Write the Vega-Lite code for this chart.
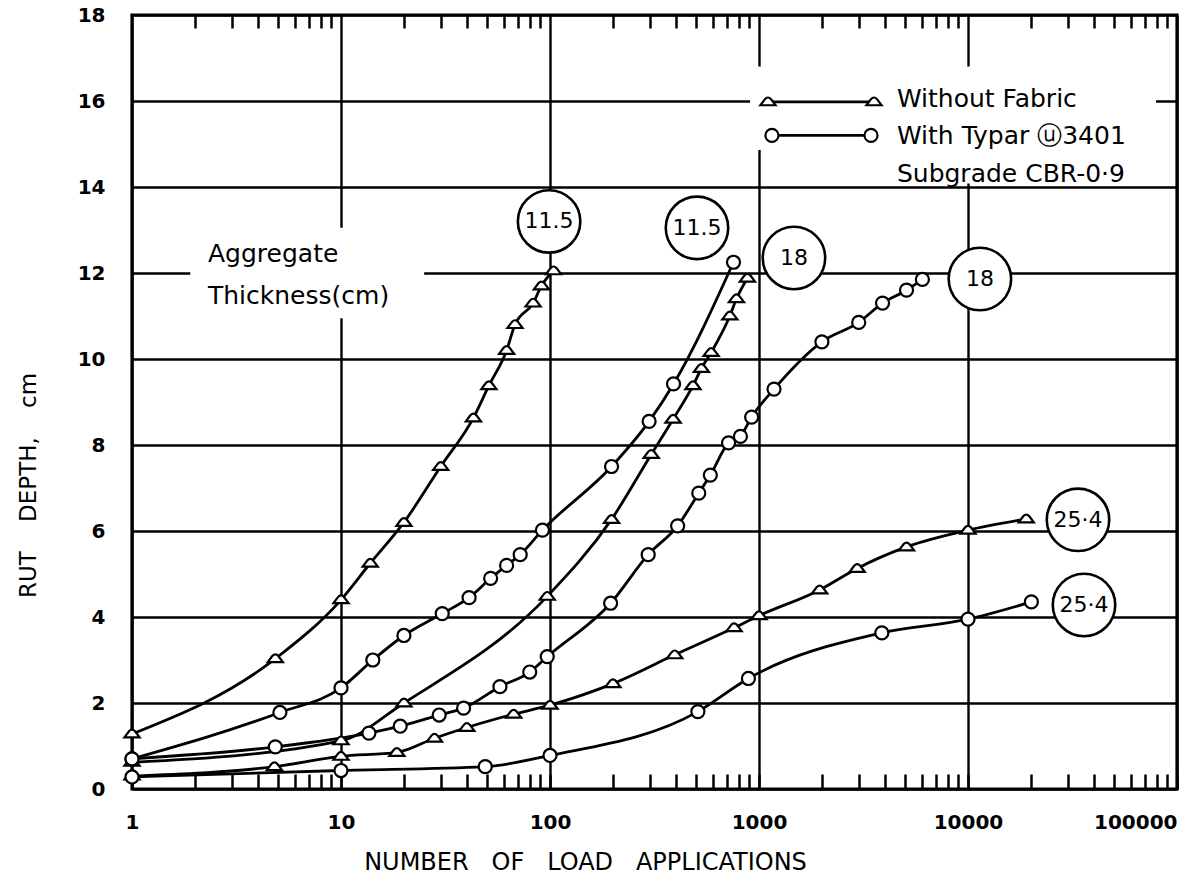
{
  "$schema": "https://vega.github.io/schema/vega-lite/v6.json",
  "width": 1045,
  "height": 774,
  "autosize": {"type": "none"},
  "padding": {"left": 132, "top": 15, "right": 20, "bottom": 98},
  "background": "white",
  "config": {
    "view": {"stroke": "black", "strokeWidth": 3.2},
    "font": "DejaVu Sans",
    "axis": {"labelFont": "DejaVu Sans", "titleFont": "DejaVu Sans", "labelColor": "black", "titleColor": "black", "titleFontWeight": "normal", "labelFontWeight": "bold"}
  },
  "datasets": {
    "curves": [
      {"curve": "11.5 without", "fabric": "without", "n": 1, "rut": 1.28},
      {"curve": "11.5 without", "fabric": "without", "n": 4.85, "rut": 3.03},
      {"curve": "11.5 without", "fabric": "without", "n": 10, "rut": 4.4},
      {"curve": "11.5 without", "fabric": "without", "n": 13.8, "rut": 5.25},
      {"curve": "11.5 without", "fabric": "without", "n": 20, "rut": 6.2},
      {"curve": "11.5 without", "fabric": "without", "n": 30, "rut": 7.5},
      {"curve": "11.5 without", "fabric": "without", "n": 43, "rut": 8.63},
      {"curve": "11.5 without", "fabric": "without", "n": 51, "rut": 9.38},
      {"curve": "11.5 without", "fabric": "without", "n": 62, "rut": 10.2},
      {"curve": "11.5 without", "fabric": "without", "n": 68, "rut": 10.8},
      {"curve": "11.5 without", "fabric": "without", "n": 83, "rut": 11.3},
      {"curve": "11.5 without", "fabric": "without", "n": 91, "rut": 11.7},
      {"curve": "11.5 without", "fabric": "without", "n": 104, "rut": 12.05},
      {"curve": "11.5 with", "fabric": "with", "n": 1, "rut": 0.7},
      {"curve": "11.5 with", "fabric": "with", "n": 5.1, "rut": 1.78},
      {"curve": "11.5 with", "fabric": "with", "n": 10, "rut": 2.35},
      {"curve": "11.5 with", "fabric": "with", "n": 14.2, "rut": 3.0},
      {"curve": "11.5 with", "fabric": "with", "n": 20, "rut": 3.57},
      {"curve": "11.5 with", "fabric": "with", "n": 30.5, "rut": 4.08},
      {"curve": "11.5 with", "fabric": "with", "n": 41, "rut": 4.45},
      {"curve": "11.5 with", "fabric": "with", "n": 52, "rut": 4.9},
      {"curve": "11.5 with", "fabric": "with", "n": 62, "rut": 5.2},
      {"curve": "11.5 with", "fabric": "with", "n": 72, "rut": 5.45},
      {"curve": "11.5 with", "fabric": "with", "n": 92, "rut": 6.02},
      {"curve": "11.5 with", "fabric": "with", "n": 197, "rut": 7.5},
      {"curve": "11.5 with", "fabric": "with", "n": 298, "rut": 8.55},
      {"curve": "11.5 with", "fabric": "with", "n": 390, "rut": 9.42},
      {"curve": "11.5 with", "fabric": "with", "n": 755, "rut": 12.25},
      {"curve": "18 without", "fabric": "without", "n": 1, "rut": 0.62},
      {"curve": "18 without", "fabric": "without", "n": 10, "rut": 1.12},
      {"curve": "18 without", "fabric": "without", "n": 20, "rut": 2.0},
      {"curve": "18 without", "fabric": "without", "n": 97, "rut": 4.48},
      {"curve": "18 without", "fabric": "without", "n": 197, "rut": 6.27},
      {"curve": "18 without", "fabric": "without", "n": 305, "rut": 7.78},
      {"curve": "18 without", "fabric": "without", "n": 388, "rut": 8.6},
      {"curve": "18 without", "fabric": "without", "n": 483, "rut": 9.38},
      {"curve": "18 without", "fabric": "without", "n": 530, "rut": 9.78},
      {"curve": "18 without", "fabric": "without", "n": 590, "rut": 10.15},
      {"curve": "18 without", "fabric": "without", "n": 725, "rut": 11.0},
      {"curve": "18 without", "fabric": "without", "n": 780, "rut": 11.4},
      {"curve": "18 without", "fabric": "without", "n": 880, "rut": 11.88},
      {"curve": "18 with", "fabric": "with", "n": 1, "rut": 0.7},
      {"curve": "18 with", "fabric": "with", "n": 4.85, "rut": 0.98},
      {"curve": "18 with", "fabric": "with", "n": 13.6, "rut": 1.3},
      {"curve": "18 with", "fabric": "with", "n": 19.2, "rut": 1.46},
      {"curve": "18 with", "fabric": "with", "n": 29.5, "rut": 1.72},
      {"curve": "18 with", "fabric": "with", "n": 38.6, "rut": 1.88},
      {"curve": "18 with", "fabric": "with", "n": 57.6, "rut": 2.38},
      {"curve": "18 with", "fabric": "with", "n": 80, "rut": 2.72},
      {"curve": "18 with", "fabric": "with", "n": 97, "rut": 3.08},
      {"curve": "18 with", "fabric": "with", "n": 195, "rut": 4.32},
      {"curve": "18 with", "fabric": "with", "n": 295, "rut": 5.45},
      {"curve": "18 with", "fabric": "with", "n": 408, "rut": 6.12},
      {"curve": "18 with", "fabric": "with", "n": 515, "rut": 6.88},
      {"curve": "18 with", "fabric": "with", "n": 585, "rut": 7.3},
      {"curve": "18 with", "fabric": "with", "n": 715, "rut": 8.05},
      {"curve": "18 with", "fabric": "with", "n": 815, "rut": 8.2},
      {"curve": "18 with", "fabric": "with", "n": 922, "rut": 8.65},
      {"curve": "18 with", "fabric": "with", "n": 1180, "rut": 9.3},
      {"curve": "18 with", "fabric": "with", "n": 2000, "rut": 10.4},
      {"curve": "18 with", "fabric": "with", "n": 3000, "rut": 10.85},
      {"curve": "18 with", "fabric": "with", "n": 3900, "rut": 11.3},
      {"curve": "18 with", "fabric": "with", "n": 5080, "rut": 11.6},
      {"curve": "18 with", "fabric": "with", "n": 6050, "rut": 11.85},
      {"curve": "25.4 without", "fabric": "without", "n": 1, "rut": 0.3},
      {"curve": "25.4 without", "fabric": "without", "n": 4.8, "rut": 0.52},
      {"curve": "25.4 without", "fabric": "without", "n": 10, "rut": 0.76},
      {"curve": "25.4 without", "fabric": "without", "n": 18.5, "rut": 0.85},
      {"curve": "25.4 without", "fabric": "without", "n": 28, "rut": 1.18},
      {"curve": "25.4 without", "fabric": "without", "n": 40, "rut": 1.43},
      {"curve": "25.4 without", "fabric": "without", "n": 67, "rut": 1.74},
      {"curve": "25.4 without", "fabric": "without", "n": 100, "rut": 1.95},
      {"curve": "25.4 without", "fabric": "without", "n": 200, "rut": 2.45},
      {"curve": "25.4 without", "fabric": "without", "n": 395, "rut": 3.12},
      {"curve": "25.4 without", "fabric": "without", "n": 760, "rut": 3.75},
      {"curve": "25.4 without", "fabric": "without", "n": 1000, "rut": 4.03},
      {"curve": "25.4 without", "fabric": "without", "n": 1950, "rut": 4.63},
      {"curve": "25.4 without", "fabric": "without", "n": 2950, "rut": 5.13},
      {"curve": "25.4 without", "fabric": "without", "n": 5080, "rut": 5.63},
      {"curve": "25.4 without", "fabric": "without", "n": 10000, "rut": 6.02},
      {"curve": "25.4 without", "fabric": "without", "n": 19000, "rut": 6.28},
      {"curve": "25.4 with", "fabric": "with", "n": 1, "rut": 0.28},
      {"curve": "25.4 with", "fabric": "with", "n": 10, "rut": 0.43},
      {"curve": "25.4 with", "fabric": "with", "n": 49, "rut": 0.52},
      {"curve": "25.4 with", "fabric": "with", "n": 100, "rut": 0.78},
      {"curve": "25.4 with", "fabric": "with", "n": 510, "rut": 1.8},
      {"curve": "25.4 with", "fabric": "with", "n": 890, "rut": 2.57},
      {"curve": "25.4 with", "fabric": "with", "n": 3870, "rut": 3.63},
      {"curve": "25.4 with", "fabric": "with", "n": 10000, "rut": 3.95},
      {"curve": "25.4 with", "fabric": "with", "n": 20100, "rut": 4.35}
    ],
    "masks": [
      {"n": 1.9, "n2": 25, "rut": 10.95, "rut2": 13.05},
      {"n": 906, "n2": 79400, "rut": 14.86, "rut2": 16.8},
      {"n": 4400, "n2": 79400, "rut": 14.08, "rut2": 14.86}
    ],
    "legend": [
      {"series": "without", "n": 1104, "rut": 15.98},
      {"series": "without", "n": 3550, "rut": 15.98},
      {"series": "with", "n": 1153, "rut": 15.2},
      {"series": "with", "n": 3435, "rut": 15.2}
    ],
    "tags": [
      {"label": "11.5", "n": 99, "rut": 13.2},
      {"label": "11.5", "n": 505, "rut": 13.05},
      {"label": "18", "n": 1470, "rut": 12.35},
      {"label": "18", "n": 11400, "rut": 11.86},
      {"label": "25·4", "n": 33600, "rut": 6.26},
      {"label": "25·4", "n": 35900, "rut": 4.28}
    ],
    "notes": [
      {"text": "Aggregate", "n": 2.31, "rut": 12.44},
      {"text": "Thickness(cm)", "n": 2.31, "rut": 11.46},
      {"text": "Without Fabric", "n": 4570, "rut": 16.05},
      {"text": "With Typar ⓤ3401", "n": 4570, "rut": 15.18},
      {"text": "Subgrade CBR-0·9", "n": 4570, "rut": 14.3}
    ]
  },
  "resolve": {"axis": {"x": "independent"}},
  "encoding": {
    "y": {"field": "rut", "type": "quantitative", "scale": {"domain": [0, 18], "nice": false, "zero": false},
      "axis": {"values": [0,2,4,6,8,10,12,14,16,18], "grid": true, "gridColor": "black", "gridWidth": 2.4, "ticks": false, "domain": false,
        "labelFontSize": 20, "labelPadding": 27, "labelBaseline": "middle",
        "title": "RUT \u00a0\u00a0\u00a0DEPTH, \u00a0\u00a0\u00a0cm", "titleFontSize": 23, "titleAngle": 270, "titleX": -97, "titleY": 470, "titleBaseline": "alphabetic", "titleAlign": "center"}}
  },
  "layer": [
    {
      "data": {"name": "masks"},
      "mark": {"type": "rect", "fill": "white", "strokeWidth": 0},
      "encoding": {
        "x": {"field": "n", "type": "quantitative", "scale": {"type": "log", "domain": [1, 100000], "nice": false},
          "axis": {"orient": "top", "values": [2,3,4,5,6,7,8,9,20,30,40,50,60,70,80,90,200,300,400,500,600,700,800,900,2000,3000,4000,5000,6000,7000,8000,9000,20000,30000,40000,50000,60000,70000,80000,90000],
            "grid": false, "labels": false, "domain": false, "tickSize": -13, "tickWidth": 2.5, "tickColor": "black", "title": null}},
        "x2": {"field": "n2"},
        "y2": {"field": "rut2"}
      }
    },
    {
      "data": {"name": "curves"},
      "mark": {"type": "line", "interpolate": "monotone", "stroke": "black", "strokeWidth": 2.8},
      "encoding": {
        "x": {"field": "n", "type": "quantitative", "scale": {"type": "log", "domain": [1, 100000], "nice": false},
          "axis": {"orient": "bottom", "values": [1,2,3,4,5,6,7,8,9,10,20,30,40,50,60,70,80,90,100,200,300,400,500,600,700,800,900,1000,2000,3000,4000,5000,6000,7000,8000,9000,10000,20000,30000,40000,50000,60000,70000,80000,90000,100000],
            "grid": true, "gridColor": "black", "gridWidth": 2.4,
            "gridOpacity": {"condition": {"test": "indexof([1,10,100,1000,10000,100000], datum.value) >= 0", "value": 1}, "value": 0},
            "domain": false, "tickSize": -15, "tickWidth": 2.5, "tickColor": "black",
            "labelExpr": "indexof([1,10,100,1000,10000,100000], datum.value) >= 0 ? format(datum.value, 'd') : ''",
            "labelAlign": {"condition": {"test": "datum.value == 100000", "value": "right"}, "value": "center"},
            "labelBaseline": "middle", "labelPadding": 48, "labelFontSize": 20, "labelBound": false, "labelOverlap": false,
            "title": "NUMBER \u00a0\u00a0OF \u00a0\u00a0LOAD \u00a0\u00a0APPLICATIONS", "titleFontSize": 24, "titleX": 453, "titleY": 73, "titleBaseline": "middle", "titleAlign": "center"}},
        "detail": {"field": "curve"}
      }
    },
    {
      "data": {"name": "legend"},
      "mark": {"type": "line", "stroke": "black", "strokeWidth": 2.8},
      "encoding": {
        "x": {"field": "n", "type": "quantitative", "axis": null},
        "detail": {"field": "series"}
      }
    },
    {
      "data": {"name": "curves"},
      "transform": [{"filter": "datum.fabric == 'without'"}],
      "mark": {"type": "point", "shape": "M-1,0.45 L-0.4,-0.35 Q0,-0.8 0.4,-0.35 L1,0.45 Z", "size": 230, "fill": "white", "stroke": "black", "strokeWidth": 2.2, "opacity": 1, "filled": true},
      "encoding": {
        "x": {"field": "n", "type": "quantitative", "axis": null}
      }
    },
    {
      "data": {"name": "legend"},
      "transform": [{"filter": "datum.series == 'without'"}],
      "mark": {"type": "point", "shape": "M-1,0.45 L-0.4,-0.35 Q0,-0.8 0.4,-0.35 L1,0.45 Z", "size": 230, "fill": "white", "stroke": "black", "strokeWidth": 2.2, "opacity": 1, "filled": true},
      "encoding": {
        "x": {"field": "n", "type": "quantitative", "axis": null}
      }
    },
    {
      "data": {"name": "curves"},
      "transform": [{"filter": "datum.fabric == 'with'"}],
      "mark": {"type": "point", "shape": "circle", "size": 170, "fill": "white", "stroke": "black", "strokeWidth": 2.2, "opacity": 1, "filled": true},
      "encoding": {
        "x": {"field": "n", "type": "quantitative", "axis": null}
      }
    },
    {
      "data": {"name": "legend"},
      "transform": [{"filter": "datum.series == 'with'"}],
      "mark": {"type": "point", "shape": "circle", "size": 170, "fill": "white", "stroke": "black", "strokeWidth": 2.2, "opacity": 1, "filled": true},
      "encoding": {
        "x": {"field": "n", "type": "quantitative", "axis": null}
      }
    },
    {
      "data": {"name": "tags"},
      "mark": {"type": "point", "shape": "circle", "size": 3900, "fill": "white", "stroke": "black", "strokeWidth": 2.6, "opacity": 1, "filled": true},
      "encoding": {
        "x": {"field": "n", "type": "quantitative", "axis": null}
      }
    },
    {
      "data": {"name": "tags"},
      "mark": {"type": "text", "fontSize": 22, "align": "center", "baseline": "middle", "color": "black", "font": "DejaVu Sans"},
      "encoding": {
        "x": {"field": "n", "type": "quantitative", "axis": null},
        "text": {"field": "label"}
      }
    },
    {
      "data": {"name": "notes"},
      "mark": {"type": "text", "fontSize": 25, "align": "left", "baseline": "middle", "color": "black", "font": "DejaVu Sans"},
      "encoding": {
        "x": {"field": "n", "type": "quantitative", "axis": null},
        "text": {"field": "text"}
      }
    }
  ]
}
